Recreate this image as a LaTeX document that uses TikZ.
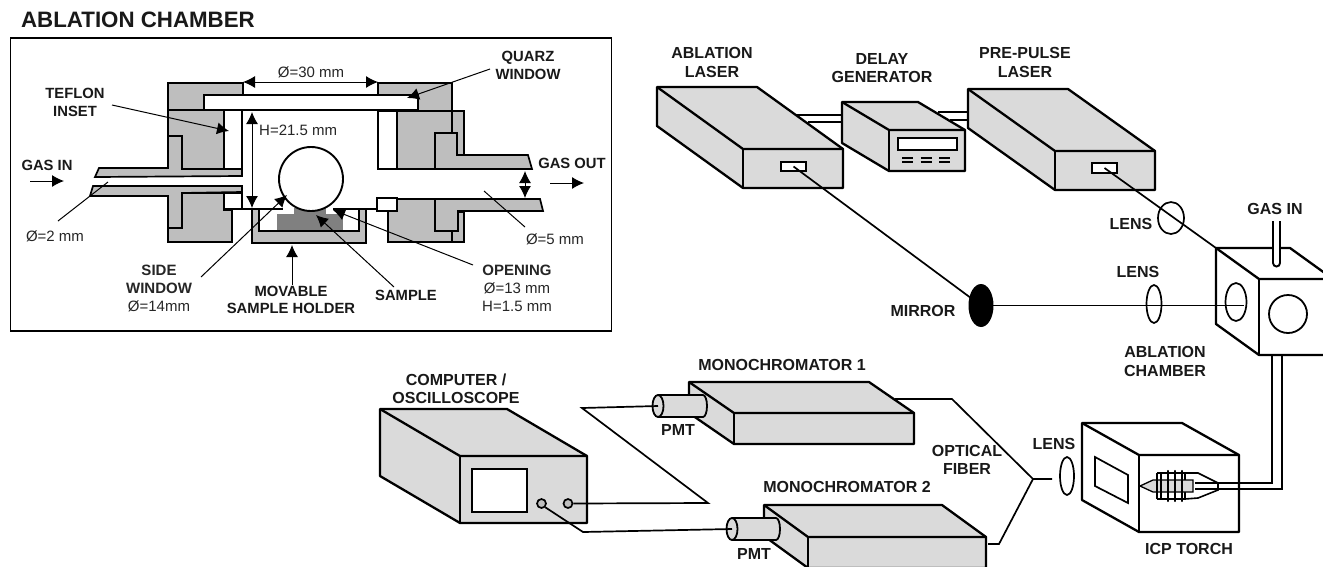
\documentclass[tikz,border=0pt]{standalone}
\usepackage{fontspec}
\setmainfont{Liberation Sans}
\usetikzlibrary{shapes.geometric, arrows.meta, positioning}
\definecolor{colorBlock}{HTML}{BEBEBE}
\definecolor{colorBox}{HTML}{DADADA}
\definecolor{colorSample}{HTML}{808080}
\begin{document}
\begin{tikzpicture}[
        x=1pt, y=-1pt,
        lab/.style={font=\bfseries\fontsize{14.8}{17.5}\selectfont, align=center, inner sep=0pt, text=black!90},
        dev/.style={font=\bfseries\fontsize{16}{18.5}\selectfont, align=center, inner sep=0pt, text=black!90},
        dim/.style={font=\fontsize{15}{18}\selectfont, align=center, inner sep=0pt, text=black!85},
        part/.style={draw=black, fill=colorBlock, line width=1.7pt, line join=miter},
        hole/.style={draw=black, fill=white, line width=1.7pt},
        devbox/.style={draw=black, line width=2.3pt, line join=round},
        wire/.style={draw=black, line width=1.7pt},
        tube/.style={draw=black, line width=1.9pt},
        lens/.style={ellipse, draw=black, line width=1.7pt, inner sep=0pt},
        knob/.style={circle, draw=black, fill=colorBlock, line width=1.7pt, inner sep=0pt, minimum size=9pt},
        slit/.style={rectangle, draw=black, fill=white, line width=2pt, inner sep=0pt},
        rel/.style={-{Latex[length=12pt,width=12pt]}, black, line width=1pt},
        rels/.style={{Latex[length=12pt,width=12pt]}-{Latex[length=12pt,width=12pt]}, black, line width=1pt},
        lead/.style={black, line width=1pt}
    ]
        \useasboundingbox (0,0) rectangle (1323,566);
        \clip (0,0) rectangle (1323,566);
        \fill[white] (0,0) rectangle (1323,566);

        % chamber inset
        \node[lab, font=\bfseries\fontsize{22.3}{24}\selectfont] (title) at (138,20) {ABLATION CHAMBER};
        \node[draw=black, line width=1.5pt, minimum width=601pt, minimum height=293pt, inner sep=0pt] (frame) at (311,184.5) {};

        \draw[part] (168,83)--(243,83)--(243,95)--(204,95)--(204,110)--(168,110)--cycle;
        \draw[part] (378,83)--(452,83)--(452,111)--(418,111)--(418,95)--(378,95)--cycle;
        \draw[hole] (204,95) rectangle (418,110);
        \draw[part] (168,110)--(224,110)--(224,169)--(182,169)--(182,136)--(168,136)--cycle;
        \draw[hole] (224,110) rectangle (242,169);
        \draw[part] (168,136)--(182,136)--(182,169)--(242,169)--(242,176)--(95,177)--(99,168)--(168,168)--cycle;
        \draw[part] (93,186)--(242,186)--(242,192)--(182,193)--(182,228)--(168,228)--(168,196)--(90,196)--cycle;
        \draw[part] (182,193)--(224,193)--(224,210)--(232,210)--(232,242)--(168,242)--(168,228)--(182,228)--cycle;
        \draw[hole] (224,193) rectangle (242,209);
        \draw[part] (252,209)--(259,209)--(259,231)--(359,231)--(359,209)--(366,209)--(366,243)--(252,243)--cycle;
        \fill[colorSample] (277,214) rectangle (343,230);
        \fill[colorSample] (294,208) rectangle (326,215);
        \draw[black, line width=2pt] (224,209)--(283,209);
        \draw[black, line width=2pt] (333,209)--(377,209);
        \node[circle, draw=black, fill=white, line width=1.9pt, minimum size=64pt, inner sep=0pt] (port) at (311,179) {};
        \draw[hole] (378,111) rectangle (397,169);
        \draw[part] (397,111)--(464,111)--(464,155)--(457,155)--(457,133)--(435,133)--(435,169)--(397,169)--cycle;
        \draw[black, line width=1.7pt] (452,111)--(452,133);
        \draw[part] (435,133)--(457,133)--(457,155)--(528,155)--(532,169)--(435,169)--cycle;
        \draw[hole] (377,198) rectangle (397,211);
        \draw[part] (397,199)--(435,199)--(435,231)--(458,231)--(458,212)--(464,212)--(464,242)--(388,242)--(388,211)--(397,211)--cycle;
        \draw[black, line width=1.7pt] (452,231)--(452,242);
        \draw[part] (435,199)--(540,199)--(543,211)--(458,211)--(458,231)--(435,231)--cycle;

        % chamber labels and leaders
        \node[lab] (teflon) at (75,102.5) {TEFLON\\INSET};
        \node[lab] (quarz) at (528,65.5) {QUARZ\\WINDOW};
        \node[lab] (gasInA) at (47,165) {GAS IN};
        \node[lab] (gasOutA) at (572,163) {GAS OUT};
        \node[dim] (d2) at (55,236) {Ø=2 mm};
        \node[dim] (d5) at (555,239) {Ø=5 mm};
        \node[dim] (d30) at (311,72) {Ø=30 mm};
        \node[dim, anchor=west] (h21) at (259,130) {H=21.5 mm};
        \node[dim] (sideWin) at (159,288) {\textbf{SIDE}\\\textbf{WINDOW}\\Ø=14mm};
        \node[lab] (holder) at (291,300) {MOVABLE\\SAMPLE HOLDER};
        \node[lab] (sample) at (406,295) {SAMPLE};
        \node[dim] (opening) at (517,288) {\textbf{OPENING}\\Ø=13 mm\\H=1.5 mm};

        \coordinate (p1) at (112,105); \coordinate (p2) at (229,131);
        \coordinate (p3) at (490,69); \coordinate (p4) at (407,98);
        \coordinate (p5) at (30,181); \coordinate (p6) at (64,181);
        \coordinate (p7) at (550,183); \coordinate (p8) at (584,183);
        \coordinate (p9) at (58,221); \coordinate (p10) at (108,182);
        \coordinate (p11) at (525,227); \coordinate (p12) at (484,191);
        \coordinate (p13) at (201,277); \coordinate (p14) at (287,195);
        \coordinate (p15) at (292,285); \coordinate (p16) at (292,245);
        \coordinate (p17) at (394,287); \coordinate (p18) at (316,215);
        \coordinate (p19) at (473,265); \coordinate (p20) at (333,210);
        \coordinate (p21) at (243,82); \coordinate (p22) at (378,82);
        \coordinate (p23) at (252,112); \coordinate (p24) at (252,208);
        \coordinate (p25) at (525,171); \coordinate (p26) at (525,198);
        \draw[rel] (p1)--(p2);
        \draw[rel] (p3)--(p4);
        \draw[rel] (p5)--(p6);
        \draw[rel] (p7)--(p8);
        \draw[lead] (p9)--(p10);
        \draw[lead] (p11)--(p12);
        \draw[rel] (p13)--(p14);
        \draw[rel] (p15)--(p16);
        \draw[rel] (p17)--(p18);
        \draw[rel] (p19)--(p20);
        \draw[rels] (p21)--(p22);
        \draw[rels] (p23)--(p24);
        \draw[rels] (p25)--(p26);

        % laser cables
        \coordinate (c1) at (797,115); \coordinate (c2) at (842,115);
        \coordinate (c3) at (808,122); \coordinate (c4) at (842,122);
        \coordinate (c5) at (938,112); \coordinate (c6) at (968,112);
        \coordinate (c7) at (950,120); \coordinate (c8) at (968,120);
        \draw[wire] (c1)--(c2); \draw[wire] (c3)--(c4);
        \draw[wire] (c5)--(c6); \draw[wire] (c7)--(c8);

        % boxes
        \foreach \nm/\x/\y/\w/\dx/\dy/\h/\col in {
            ablLaser/657/87/100/86/62/39/colorBox,
            delay/842/102/76/47/28/41/colorBox,
            preLaser/968/89/100/87/62/39/colorBox,
            computer/380/409/127/80/47/67/colorBox,
            monoA/689/382/180/45/31/31/colorBox,
            monoB/764/505/178/44/32/31/colorBox,
            torchBox/1082/423/100/57/32/77/white,
            cube/1216/248/74/43/31/76/white} {
            \coordinate (\nm-a) at (\x,\y);
            \coordinate (\nm-b) at (\x+\w,\y);
            \coordinate (\nm-c) at (\x+\w+\dx,\y+\dy);
            \coordinate (\nm-d) at (\x+\dx,\y+\dy);
            \coordinate (\nm-e) at (\x,\y+\h);
            \coordinate (\nm-f) at (\x+\dx,\y+\dy+\h);
            \coordinate (\nm-g) at (\x+\w+\dx,\y+\dy+\h);
            \draw[devbox, fill=\col] (\nm-a)--(\nm-b)--(\nm-c)--(\nm-g)--(\nm-f)--(\nm-e)--cycle;
            \draw[devbox] (\nm-a)--(\nm-d)--(\nm-c);
            \draw[devbox] (\nm-d)--(\nm-f);
        }

        % device details
        \node[slit, minimum width=25pt, minimum height=9pt] (ablSlit) at (793.5,166.5) {};
        \node[slit, minimum width=25pt, minimum height=10pt] (preSlit) at (1104.5,168) {};
        \node[slit, minimum width=59pt, minimum height=12pt] (display) at (927.5,144) {};
        \foreach \kx in {902,920.5,939} {
            \draw[black, line width=1.4pt] (\kx,158)--(\kx+11,158);
            \draw[black, line width=1.4pt] (\kx,162)--(\kx+11,162);
        }
        \node[slit, minimum width=55pt, minimum height=43pt] (screen) at (499.5,490.5) {};
        \node[knob] (knobA) at (541.5,503.5) {};
        \node[knob] (knobB) at (568,503.5) {};
        \draw[black, line width=1.7pt] (1095,457)--(1128,475)--(1128,503)--(1095,486)--cycle;

        % optics
        \node[ellipse, fill=black, minimum width=25pt, minimum height=43pt, inner sep=0pt] (mirror) at (981,305.5) {};
        \node[lens, minimum width=26pt, minimum height=32pt] (lensA) at (1171,218) {};
        \node[lens, minimum width=15pt, minimum height=38pt] (lensB) at (1154,304) {};
        \node[lens, minimum width=14pt, minimum height=38pt] (lensC) at (1067,476) {};
        \node[lens, minimum width=21pt, minimum height=38pt] (viewA) at (1236,302) {};
        \node[circle, draw=black, line width=1.8pt, minimum size=38pt, inner sep=0pt] (viewB) at (1288,314) {};
        \coordinate (beamEnd) at (1244,305.5);
        \draw[wire] (ablSlit.center)--(mirror.center);
        \draw[wire] (preSlit.center)--(cube-a);
        \draw[wire] (mirror.center)--(beamEnd);

        % gas tubes
        \draw[tube, fill=white] (1273,221)--(1273,263) arc[start angle=180, end angle=360, radius=3.5pt]--(1280,221);
        \coordinate (t1) at (1272,355); \coordinate (t2) at (1272,483); \coordinate (t3) at (1195,483);
        \coordinate (t4) at (1282,355); \coordinate (t5) at (1282,489); \coordinate (t6) at (1195,489);

        % torch
        \draw[black, line width=1.6pt, fill=white] (1185,473)--(1198,473)--(1218,483)--(1218,490)--(1198,498)--(1185,499)--cycle;
        \draw[black, line width=1.3pt, fill=colorBox] (1140,486)--(1153,480)--(1193,480)--(1193,492)--(1153,492)--cycle;
        \draw[black, line width=1.8pt] (1157,473)--(1185,473);
        \draw[black, line width=1.8pt] (1157,499)--(1185,499);
        \draw[black, line width=1.8pt] (1157,473)--(1157,499);
        \draw[black, line width=1.4pt] (1161,473)--(1161,499);
        \foreach \cx in {1168,1175,1182} {
            \draw[black, line width=2.4pt, line cap=round] (\cx,471)--(\cx,501);
        }
        \draw[tube] (t1)--(t2)--(t3);
        \draw[tube] (t4)--(t5)--(t6);

        % fibers and PMTs
        \coordinate (j1) at (895,399); \coordinate (j2) at (952,399);
        \coordinate (j3) at (1033,479); \coordinate (j4) at (1052,479);
        \coordinate (j5) at (988,544); \coordinate (j6) at (999,544);
        \draw[wire] (j1)--(j2)--(j3)--(j4);
        \draw[wire] (j5)--(j6)--(j3);

        \foreach \nm/\x/\y/\len in {pmtA/658/406/49, pmtB/732/529/48} {
            \draw[devbox, line width=1.8pt, fill=colorBox] (\x,\y-11)--(\x+\len-4,\y-11) arc[start angle=90, end angle=-90, x radius=4pt, y radius=11pt]--(\x,\y+11);
            \node[ellipse, draw=black, fill=colorBox, line width=1.8pt, minimum width=11pt, minimum height=22pt, inner sep=0pt] (\nm) at (\x,\y) {};
        }
        \coordinate (w1) at (582,408); \coordinate (w2) at (708,503);
        \coordinate (w3) at (583,532);
        \draw[wire] (pmtA.center)--(w1)--(w2)--(knobB.east);
        \draw[wire] (knobA.south east)--(w3)--(pmtB.center);

        % labels
        \node[dev] (lblAbl) at (712,62.5) {ABLATION\\LASER};
        \node[dev] (lblDelay) at (882,68) {DELAY\\GENERATOR};
        \node[dev] (lblPre) at (1025,62.5) {PRE-PULSE\\LASER};
        \node[dev] (lblLensA) at (1131,224) {LENS};
        \node[dev] (lblLensB) at (1138,272) {LENS};
        \node[dev] (lblLensC) at (1054,444) {LENS};
        \node[dev] (lblGas) at (1275,209) {GAS IN};
        \node[dev] (lblMirror) at (923,311) {MIRROR};
        \node[dev] (lblCube) at (1165,361.5) {ABLATION\\CHAMBER};
        \node[dev] (lblComp) at (456,389) {COMPUTER /\\OSCILLOSCOPE};
        \node[dev] (lblMonoA) at (782,365) {MONOCHROMATOR 1};
        \node[dev] (lblMonoB) at (847,487) {MONOCHROMATOR 2};
        \node[dev] (lblPmtA) at (678,430) {PMT};
        \node[dev] (lblPmtB) at (754,554) {PMT};
        \node[dev] (lblFiber) at (967,460) {OPTICAL\\FIBER};
        \node[dev] (lblTorch) at (1189,549) {ICP TORCH};
    \end{tikzpicture}
\end{document}
